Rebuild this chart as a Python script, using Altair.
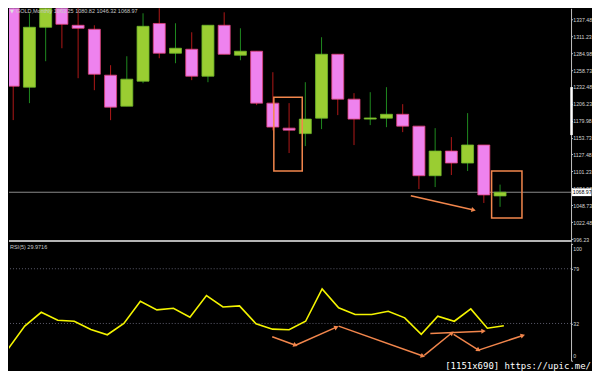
import math
import altair as alt
import pandas as pd

# ---------------- data ----------------
idx = list(range(31))
opens = [1393.0, 1232.1, 1325.1, 1395.0, 1328.2, 1322.0, 1250.7, 1202.6, 1241.4, 1331.0,
         1284.8, 1291.0, 1249.1, 1328.2, 1281.7, 1287.9, 1207.3, 1168.5, 1160.0, 1184.0,
         1283.2, 1213.5, 1182.5, 1184.0, 1190.0, 1171.6, 1094.6, 1132.9, 1114.3, 1142.3, 1063.25]
highs = [1424.0, 1346.8, 1433.0, 1425.0, 1361.0, 1328.2, 1266.2, 1280.1, 1346.8, 1392.0,
         1331.3, 1317.3, 1328.2, 1348.3, 1323.5, 1287.9, 1255.3, 1207.3, 1239.8, 1309.6,
         1283.2, 1222.8, 1224.3, 1232.1, 1205.7, 1171.6, 1168.5, 1154.6, 1191.8, 1142.3, 1080.82]
lows = [1181.0, 1207.3, 1272.4, 1292.5, 1246.0, 1227.4, 1180.9, 1202.6, 1238.3, 1277.0,
        1269.3, 1243.0, 1239.8, 1283.2, 1273.9, 1204.2, 1165.0, 1129.8, 1140.6, 1167.0,
        1188.7, 1142.2, 1173.2, 1170.0, 1162.3, 1073.9, 1077.0, 1095.7, 1101.9, 1052.3, 1046.32]
closes = [1233.6, 1325.1, 1395.0, 1329.7, 1323.5, 1252.2, 1201.1, 1244.5, 1326.6, 1284.8,
          1292.5, 1249.1, 1328.2, 1283.2, 1287.9, 1207.3, 1170.1, 1165.4, 1182.5, 1283.2,
          1213.5, 1182.5, 1184.3, 1190.0, 1171.6, 1094.6, 1132.9, 1114.3, 1142.3, 1064.8, 1068.97]
rsi = [10.3, 29.7, 41.6, 34.8, 33.9, 26.8, 22.3, 32.0, 51.0, 43.7,
       45.0, 37.4, 55.9, 46.2, 47.1, 31.7, 27.1, 26.6, 33.9, 61.6,
       45.4, 39.7, 39.7, 42.5, 36.8, 22.6, 38.2, 33.9, 44.5, 27.9, 29.97]

price_ticks = [1337.48, 1311.23, 1284.98, 1258.73, 1232.48, 1206.23, 1179.98,
               1153.73, 1127.48, 1101.23, 1074.98, 1048.73, 1022.48, 996.23]
rsi_ticks = [0, 32, 79, 100]
rsi_levels = [32, 79]
last_price = 1068.97
title_text = "GOLD,Monthly  1063.25  1080.82  1046.32  1068.97"
rsi_text = "RSI(5) 29.9716"
watermark = "[1151x690] https://upic.me/"

# orange annotations in data units (bar index, price / RSI)
box_x1 = [16.06, 29.48]
box_x2 = [17.81, 31.35]
box_p1 = [1216.6, 1101.9]
box_p2 = [1101.9, 1029.0]
parrow_x1 = [24.5]
parrow_p1 = [1063.6]
parrow_x2 = [28.37]
parrow_p2 = [1041.4]
rarrow_x1 = [15.98, 17.39, 20.0, 25.18, 25.55, 26.96, 28.47]
rarrow_v1 = [20.6, 13.3, 29.7, 4.6, 23.4, 22.6, 9.1]
rarrow_x2 = [17.39, 19.87, 25.1, 26.86, 28.77, 28.47, 31.15]
rarrow_v2 = [13.3, 28.8, 4.0, 24.0, 25.4, 9.1, 21.7]
thumb_p = [1157.7, 1232.1]

# ---------------- layout ----------------
W = 563
H_TOP = 234
H_RSI = 118
H_WM = 6
PX_PER_BAR = 16.55
X0 = 0.048
X_DOM = [X0, X0 + W / PX_PER_BAR]
P_DOM = [991.85, 1354.53]
R_DOM = [0, 101.2]
ORANGE = "#f2864c"
FONT = "Liberation Sans"
LFS = 5.2

px_x = W / (X_DOM[1] - X_DOM[0])
px_p = H_TOP / (P_DOM[1] - P_DOM[0])
px_r = H_RSI / (R_DOM[1] - R_DOM[0])

xscale = alt.Scale(domain=X_DOM, nice=False, zero=False)
pscale = alt.Scale(domain=P_DOM, nice=False, zero=False)
rscale = alt.Scale(domain=R_DOM, nice=False, zero=False)

paxis = alt.Axis(orient="right", values=price_ticks, format=".2f", labelFontSize=LFS,
                 labelFont=FONT, labelColor="#d4d4d4", tickColor="#c0c0c0", tickSize=1.5,
                 domainColor="#c0c0c0", labelPadding=0.3, grid=False, labelOverlap=False)
raxis = alt.Axis(orient="right", values=rsi_ticks, format="d", labelFontSize=LFS,
                 labelFont=FONT, labelColor="#d4d4d4", tickColor="#c0c0c0", tickSize=1.5,
                 domainColor="#c0c0c0", labelPadding=0.3, grid=False, labelOverlap=False,
                 labelFlush=3, labelFlushOffset=-2)


def X(f):
    return alt.X(f, type="quantitative", scale=xscale, axis=None)


def PY(f):
    return alt.Y(f, type="quantitative", scale=pscale, axis=paxis, title=None)


def RY(f):
    return alt.Y(f, type="quantitative", scale=rscale, axis=raxis, title=None)


def angle(dx, dy):
    return math.degrees(math.atan2(dy, dx)) % 360


df = pd.DataFrame({"idx": idx, "open": opens, "high": highs, "low": lows,
                   "close": closes, "rsi": rsi})
df["lo"] = df[["open", "close"]].min(axis=1)
df["hi"] = df[["open", "close"]].max(axis=1)
df["dir"] = ["up" if c >= o else "down" for o, c in zip(opens, closes)]

one = pd.DataFrame({"a": [0]})

# ---------------- price panel ----------------
last_line = alt.Chart(pd.DataFrame({"p": [last_price]})).mark_rule(
    color="#8c8c8c", strokeWidth=1).encode(y=PY("p"))

wicks = alt.Chart(df).mark_rule(strokeWidth=1, clip=True).encode(
    x=X("idx"), y=PY("low"), y2="high",
    color=alt.Color("dir:N", scale=alt.Scale(domain=["up", "down"], range=["#1f8a1f", "#b01818"]),
                    legend=None))

bodies = alt.Chart(df).mark_bar(size=12, strokeWidth=0.8, clip=True).encode(
    x=X("idx"), y=PY("lo"), y2="hi",
    fill=alt.Fill("dir:N", scale=alt.Scale(domain=["up", "down"], range=["#9acd32", "#ee82ee"]),
                  legend=None),
    stroke=alt.Stroke("dir:N", scale=alt.Scale(domain=["up", "down"], range=["#6fb82a", "#e0407a"]),
                      legend=None))

boxes = alt.Chart(pd.DataFrame({"x1": box_x1, "x2": box_x2, "p1": box_p1, "p2": box_p2})).mark_rect(
    filled=False, stroke=ORANGE, strokeWidth=1.5).encode(
    x=X("x1"), x2="x2", y=PY("p1"), y2="p2")

pa = pd.DataFrame({"x1": parrow_x1, "p1": parrow_p1, "x2": parrow_x2, "p2": parrow_p2})
pa["ang"] = [angle((b - a) * px_x, -(d - c) * px_p)
             for a, b, c, d in zip(parrow_x1, parrow_x2, parrow_p1, parrow_p2)]
parrow_line = alt.Chart(pa).mark_rule(color=ORANGE, strokeWidth=1.5).encode(
    x=X("x1"), x2="x2", y=PY("p1"), y2="p2")
parrow_head = alt.Chart(pa).mark_point(shape="triangle-right", filled=True, size=26,
                                       color=ORANGE, opacity=1).encode(
    x=X("x2"), y=PY("p2"), angle=alt.Angle("ang:Q", scale=None))

thumb = alt.Chart(pd.DataFrame({"p1": [thumb_p[0]], "p2": [thumb_p[1]]})).mark_rule(
    color="white", strokeWidth=2.5).encode(x=alt.value(W + 0.5), y=PY("p1"), y2="p2")

price_box = alt.Chart(pd.DataFrame({"p1": [last_price - 6.0], "p2": [last_price + 6.0]})).mark_rect(
    color="white").encode(x=alt.value(W + 1), x2=alt.value(W + 20.5), y=PY("p1"), y2="p2")
price_txt = alt.Chart(pd.DataFrame({"p": [last_price], "t": [f"{last_price:.2f}"]})).mark_text(
    font=FONT, fontSize=LFS, color="black", align="left", baseline="middle").encode(
    x=alt.value(W + 1.8), y=PY("p"), text="t:N")

title_tri = alt.Chart(one).mark_text(font="DejaVu Sans", fontSize=5, color="#e0e0e0",
                                     align="left", baseline="middle").encode(
    x=alt.value(1), y=alt.value(3), text=alt.value("▼"))
title = alt.Chart(one).mark_text(font=FONT, fontSize=5.5, color="#c8c8c8",
                                 align="left", baseline="middle").encode(
    x=alt.value(7), y=alt.value(3), text=alt.value(title_text))

separator = alt.Chart(one).mark_rule(color="#b4b4b4", strokeWidth=2).encode(
    x=alt.value(0), x2=alt.value(W), y=alt.value(H_TOP - 1))

top = alt.layer(last_line, wicks, bodies, boxes, parrow_line, parrow_head, thumb,
                price_box, price_txt, title_tri, title, separator).properties(
    width=W, height=H_TOP)

# ---------------- RSI panel ----------------
levels = alt.Chart(pd.DataFrame({"v": rsi_levels})).mark_rule(
    color="#5c5c6c", strokeWidth=1, strokeDash=[1, 2]).encode(y=RY("v"))
rsi_line = alt.Chart(df).mark_line(color="#f4f400", strokeWidth=1.6, clip=True).encode(
    x=X("idx"), y=RY("rsi"))

ra = pd.DataFrame({"x1": rarrow_x1, "v1": rarrow_v1, "x2": rarrow_x2, "v2": rarrow_v2})
ra["ang"] = [angle((b - a) * px_x, -(d - c) * px_r)
             for a, b, c, d in zip(rarrow_x1, rarrow_x2, rarrow_v1, rarrow_v2)]
rarrow_line = alt.Chart(ra).mark_rule(color=ORANGE, strokeWidth=1.5).encode(
    x=X("x1"), x2="x2", y=RY("v1"), y2="v2")
rarrow_head = alt.Chart(ra).mark_point(shape="triangle-right", filled=True, size=26,
                                       color=ORANGE, opacity=1).encode(
    x=X("x2"), y=RY("v2"), angle=alt.Angle("ang:Q", scale=None))
rsi_label = alt.Chart(one).mark_text(font=FONT, fontSize=5.5, color="#c8c8c8",
                                     align="left", baseline="middle").encode(
    x=alt.value(1), y=alt.value(4), text=alt.value(rsi_text))

bottom = alt.layer(levels, rsi_line, rarrow_line, rarrow_head, rsi_label).properties(
    width=W, height=H_RSI)

# ---------------- watermark strip ----------------
wm = alt.Chart(one).mark_text(font="DejaVu Sans Mono", fontSize=9, color="white",
                              align="right", baseline="bottom").encode(
    x=alt.value(W + 20), y=alt.value(H_WM), text=alt.value(watermark)).properties(width=W, height=H_WM)

chart = alt.vconcat(top, bottom, wm, spacing=0).properties(
    padding=0, background="black").configure_view(strokeWidth=0)

chart.save("out.html", embed_options={"renderer": "svg", "actions": False})
